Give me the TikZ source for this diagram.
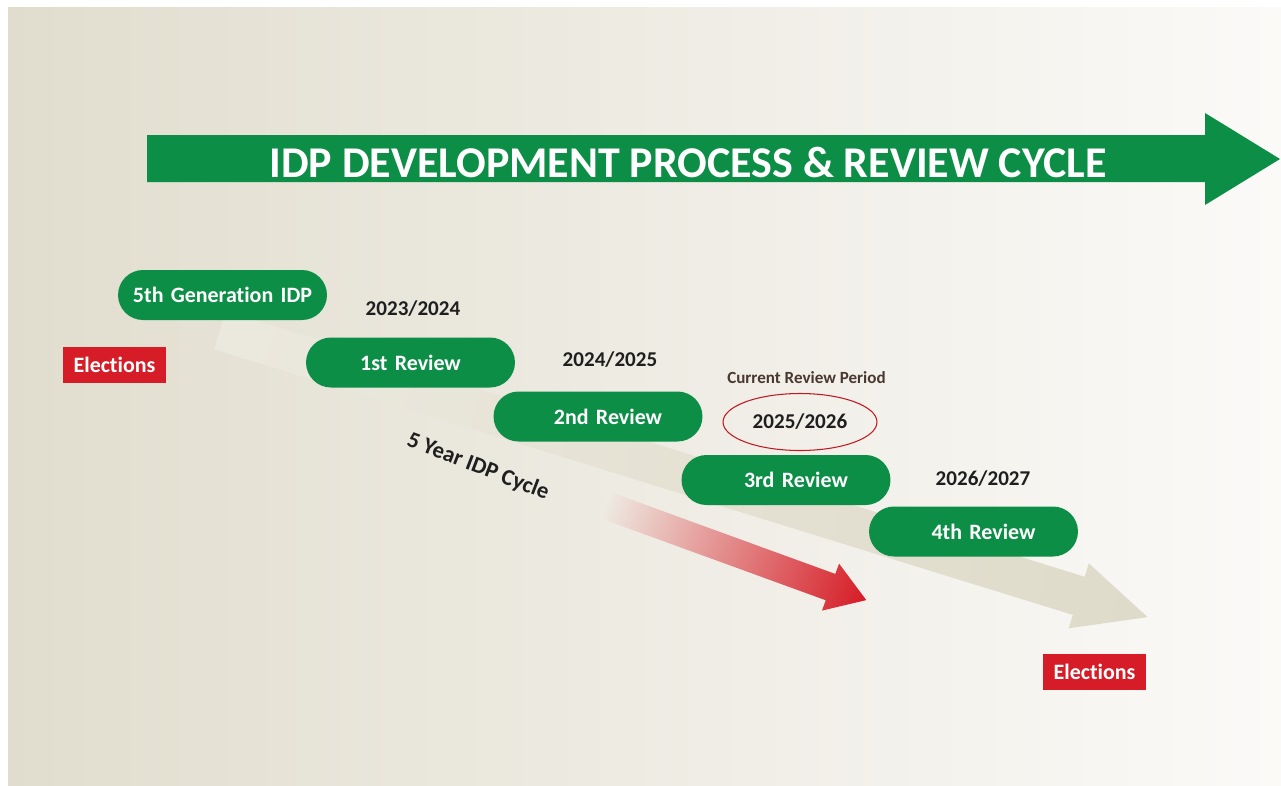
\documentclass[tikz,border=0pt]{standalone}
\usepackage{fontspec}
\setmainfont{Carlito}[Ligatures=NoCommon]
\usetikzlibrary{shapes.geometric}
\definecolor{idpgreen}{RGB}{12,142,70}
\definecolor{votered}{RGB}{214,28,38}
\definecolor{midred}{RGB}{230,125,100}
\definecolor{bgL}{RGB}{225,221,206}
\definecolor{bgM}{RGB}{238,235,226}
\definecolor{bgR}{RGB}{251,250,248}
\definecolor{band}{RGB}{222,219,202}
\definecolor{inkbrown}{RGB}{72,56,48}
\tikzset{
    pill/.style={rounded corners=0.5cm, fill=idpgreen, text=white, minimum width=4.18cm, minimum height=1cm, text width=3.6cm, align=center, font=\bfseries\fontsize{12.5}{14}\selectfont},
    vote/.style={fill=votered, text=white, minimum width=2.06cm, minimum height=0.72cm, inner sep=0pt, font=\bfseries\fontsize{12.5}{14}\selectfont},
    year/.style={text=black!88, inner sep=1pt, font=\bfseries\fontsize{12}{14}\selectfont}
}
\newcommand{\sh}{\hspace*{0.4cm}}

\begin{document}
\begin{tikzpicture}[x=0.02cm, y=-0.02cm]
\useasboundingbox (0,0) rectangle (1281,785);
\fill[white] (0,0) rectangle (1281,785);
\shade[left color=bgL, middle color=bgM, right color=bgR] (8,7) rectangle (1281,785);

% title arrow
\fill[idpgreen] (147,135) -- (1205,135) -- (1205,113) -- (1280,159) -- (1205,205) -- (1205,182) -- (147,182) -- cycle;
\node[text=white, font=\bfseries\fontsize{25}{28}\selectfont] (title) at (688,162) {IDP DEVELOPMENT PROCESS \& REVIEW CYCLE};

% pale band behind the reviews
\begin{scope}[transform canvas={shift={(220,330)}, rotate=-17.2}]
\shade[left color=bgL!20!bgM, right color=band] (0,-20) -- (899,-20) -- (899,-34) -- (971,0) -- (899,34) -- (899,20) -- (0,20) -- cycle;
\end{scope}

% red cycle arrow
\begin{scope}[transform canvas={shift={(605,505)}, rotate=-20}]
\shade[left color=bgM, middle color=midred, right color=votered] (0,-14) -- (240,-14) -- (240,-25) -- (278,0) -- (240,25) -- (240,14) -- (0,14) -- cycle;
\end{scope}

\node[pill] (g5) at (222.5,295) {5th Generation IDP};
\node[pill] (r1) at (410.5,362.5) {1st Review};
\node[pill] (r2) at (598,416.5) {\sh 2nd Review};
\node[pill] (r3) at (786,480) {\sh 3rd Review};
\node[pill] (r4) at (973.5,531.5) {\sh 4th Review};

\node[vote] (e1) at (114.5,365) {Elections};
\node[vote] (e2) at (1094.5,671.5) {Elections};

\node[year] (y1) at (413,309) {2023/2024};
\node[year] (y2) at (610,359.5) {2024/2025};
\node[year, ellipse, draw=votered!90!black, line width=0.6pt, minimum width=3.08cm, minimum height=1.14cm] (y3) at (800,422) {2025/2026};
\node[year] (y4) at (983,478.5) {2026/2027};
\node[text=inkbrown, font=\bfseries\fontsize{9.7}{11}\selectfont] (now) at (806.5,377.5) {Current Review Period};

\node[rotate=-21, text=black!88, font=\bfseries\fontsize{13}{15}\selectfont] (cycle) at (478,467) {5 Year IDP Cycle};

\end{tikzpicture}
\end{document}
